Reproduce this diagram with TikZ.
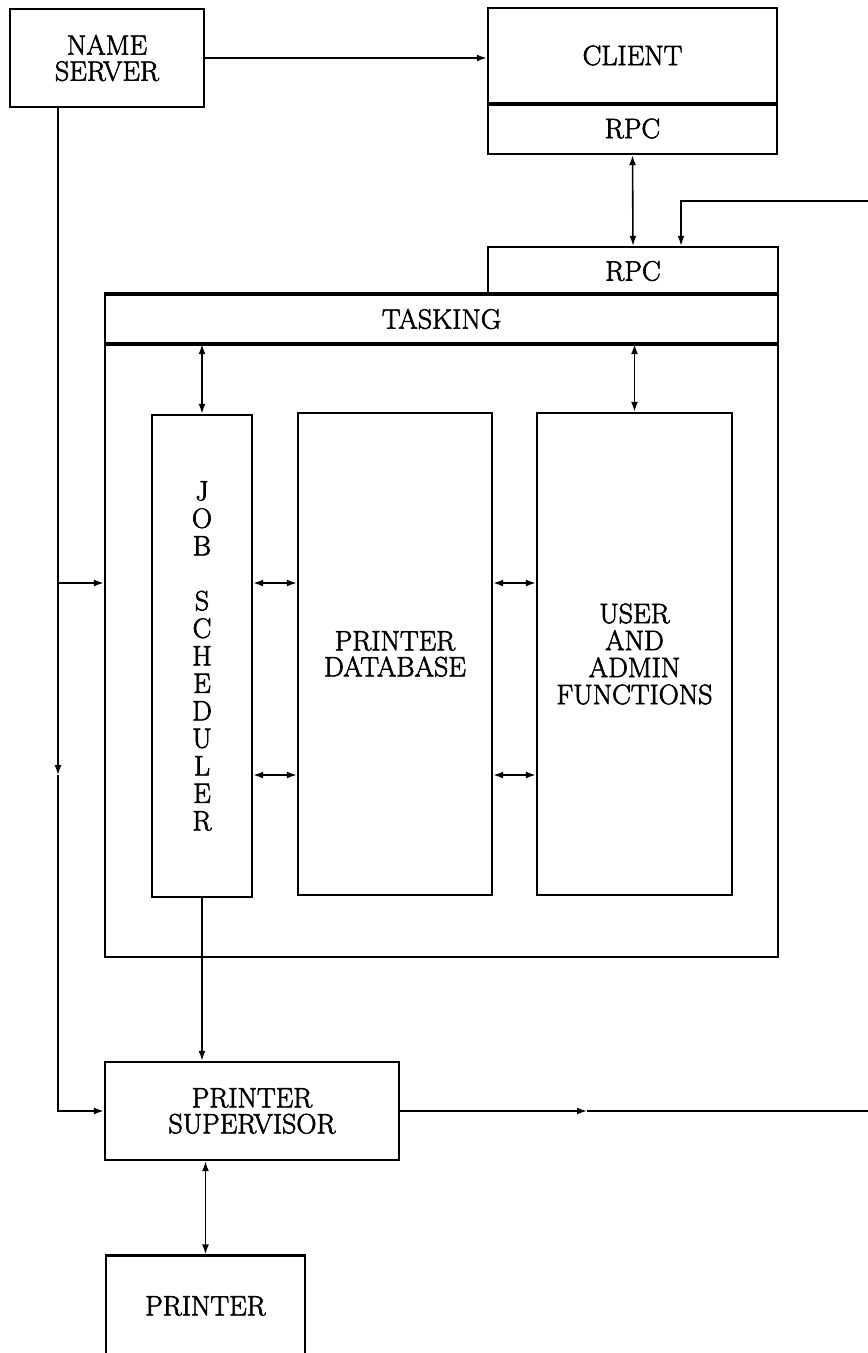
\documentclass[tikz,border=0pt]{standalone}
\usetikzlibrary{arrows.meta}
\newcommand{\heavytext}{\special{pdf:literal direct 2 Tr 0.6 w}}
\begin{document}
\begin{tikzpicture}[x=1pt,y=-1pt,
  box/.style={draw, line width=2.4pt, inner sep=0pt, align=center, font=\fontsize{28}{26}\selectfont\heavytext},
  thk/.style={line width=4pt},
  conn/.style={line width=1.6pt},
  onetip/.style={-{Latex[length=10pt,width=7pt]}},
  twotip/.style={{Latex[length=10pt,width=7pt]}-{Latex[length=10pt,width=7pt]}}]
\useasboundingbox[fill=white] (0,0) rectangle (868,1353);

% boxes
\node[box, minimum width=194pt, minimum height=98pt] (ns) at (107,58) {NAME\\SERVER};
\node[box, minimum width=289pt, minimum height=95pt] (client) at (632.5,55.5) {CLIENT};
\node[box, minimum width=289pt, minimum height=51pt] (crpc) at (632.5,128.5) {RPC};
\node[box, minimum width=290pt, minimum height=48pt] (srpc) at (633,271) {RPC};
\node[box, minimum width=673pt, minimum height=662pt] (outer) at (441.5,626) {};
\node[box, minimum width=673pt, minimum height=48pt] (tasking) at (441.5,319) {TASKING};
\node[box, minimum width=100pt, minimum height=482pt, font=\fontsize{28}{27.5}\selectfont\heavytext] (js) at (202,656)
  {J\\O\\B\\[27.5pt]S\\C\\H\\E\\D\\U\\L\\E\\R};
\node[box, minimum width=194pt, minimum height=482pt] (pd) at (395,654) {PRINTER\\DATABASE};
\node[box, minimum width=195pt, minimum height=482pt, font=\fontsize{28}{27}\selectfont\heavytext] (ua) at (634.5,654) {USER\\AND\\ADMIN\\FUNCTIONS};
\node[box, minimum width=294pt, minimum height=98pt] (ps) at (252,1111) {PRINTER\\SUPERVISOR};
\node[box, minimum width=199pt, minimum height=101pt] (pr) at (205.5,1306) {PRINTER};

% thick separators
\draw[thk] (client.south west) -- (client.south east);
\draw[thk] (tasking.north west) -- (tasking.north east);
\draw[thk] (tasking.south west) -- (tasking.south east);

% helper coordinates
\coordinate (nsl) at (58,0);
\coordinate (nsmid) at (58,775);
\coordinate (r1) at (0,583);
\coordinate (r2) at (0,775);
\coordinate (ein) at (868,201);
\coordinate (inbend) at (681,201);
\coordinate (psmid) at (587,0);
\coordinate (eout) at (868,0);

% connectors
\draw[conn,onetip] (ns.east) -- (ns.east -| client.west);
\draw[conn,twotip] (crpc.south) -- (srpc.north);
\draw[conn,onetip] (ein) -- (inbend) -- (inbend |- srpc.north);

\draw[conn,onetip] (ns.south -| nsl) -- (nsmid);
\draw[conn,onetip] (nsmid) -- (nsl |- ps.west) -- (ps.west);
\draw[conn,onetip] (nsl |- r1) -- (outer.west |- r1);

\draw[conn,twotip] (tasking.south -| js.north) -- (js.north);
\draw[conn,twotip] (tasking.south -| ua.north) -- (ua.north);

\draw[conn,twotip] (js.east |- r1) -- (pd.west |- r1);
\draw[conn,twotip] (js.east |- r2) -- (pd.west |- r2);
\draw[conn,twotip] (pd.east |- r1) -- (ua.west |- r1);
\draw[conn,twotip] (pd.east |- r2) -- (ua.west |- r2);

\draw[conn,onetip] (js.south) -- (js.south |- ps.north);
\draw[conn,twotip] (ps.south -| pr.north) -- (pr.north);

\draw[conn,onetip] (ps.east) -- (psmid |- ps.east);
\draw[conn] (psmid |- ps.east) -- (eout |- ps.east);
\end{tikzpicture}
\end{document}
